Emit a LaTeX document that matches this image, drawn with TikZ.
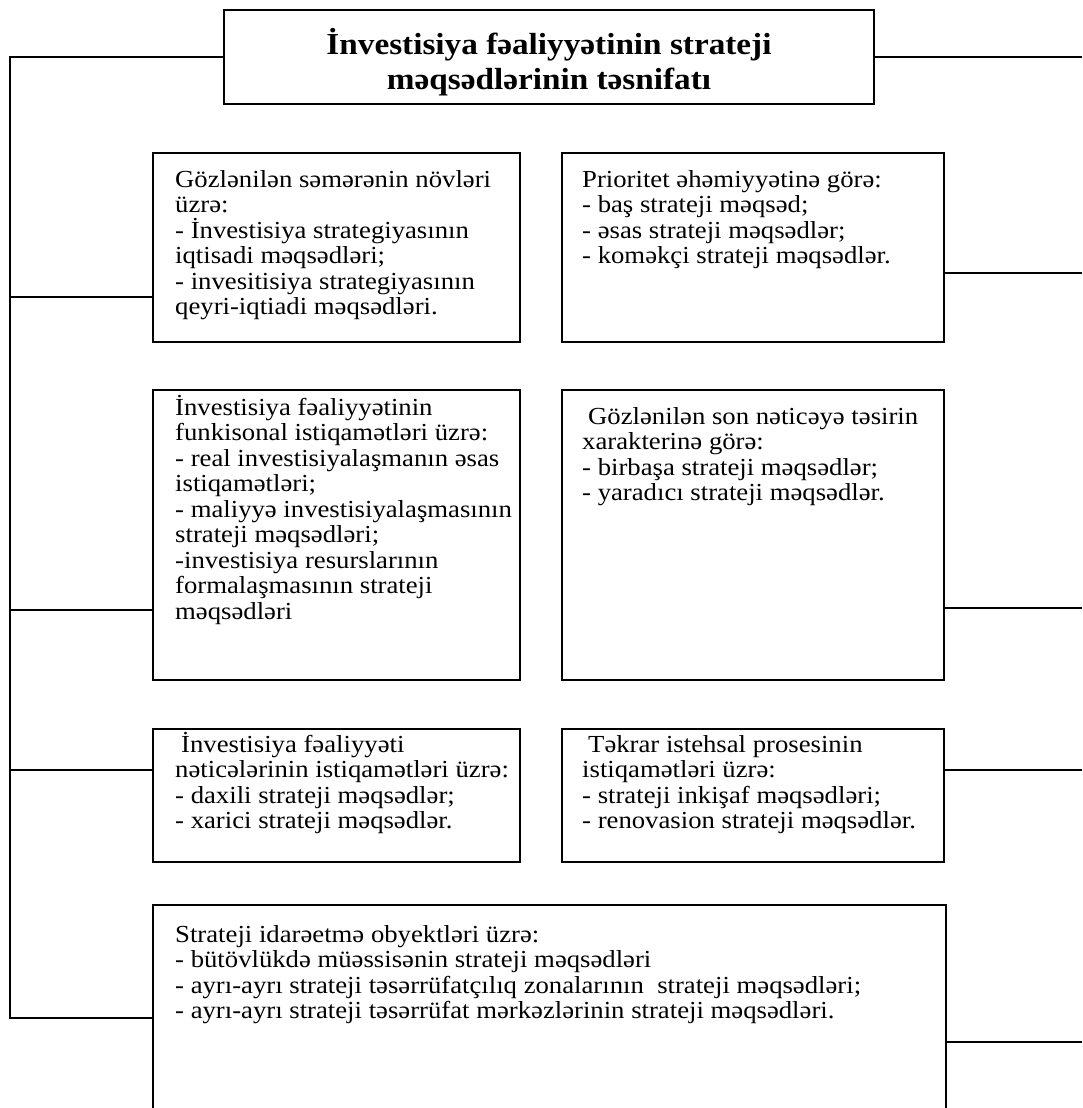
\documentclass[tikz,border=0pt]{standalone}
\usepackage{fontspec}
\setmainfont{Liberation Serif}[FakeStretch=1.09]
\usetikzlibrary{calc}
\newcommand\bodyfont{\fontsize{24.5}{25.5}\selectfont}
\newcommand\headfont{\fontsize{30.5}{35}\selectfont\bfseries}
% fixes the first baseline 21pt below the top of a text block
\newcommand\fl{\rule{0pt}{21pt}}
\begin{document}
\begin{tikzpicture}[x=1pt,y=-1pt,
  frame/.style={draw, line width=1.5pt, inner sep=0pt, outer sep=0pt, anchor=north west},
  txt/.style={anchor=north west, inner sep=0pt, align=left, font=\bodyfont},
  wire/.style={line width=1.5pt}]
\useasboundingbox (0,0) rectangle (1082,1108);
\clip (0,0) rectangle (1082,1108);

% title
\node[frame, anchor=center, minimum width=650pt, minimum height=94pt] (title) at (549,57) {};
\node[align=center, font=\headfont, inner sep=0pt] (titletext) at (549,62)
  {İnvestisiya fəaliyyətinin strateji\\məqsədlərinin təsnifatı};

% classification boxes
\node[frame, minimum width=367pt, minimum height=189pt] (b1) at (153,153) {};
\node[frame, minimum width=382pt, minimum height=189pt] (b2) at (562,153) {};
\node[frame, minimum width=367pt, minimum height=290pt] (b3) at (153,390) {};
\node[frame, minimum width=382pt, minimum height=290pt] (b4) at (562,390) {};
\node[frame, minimum width=367pt, minimum height=133pt] (b5) at (153,729) {};
\node[frame, minimum width=382pt, minimum height=133pt] (b6) at (562,729) {};
\node[frame, minimum width=793pt, minimum height=260pt] (b7) at (153,905) {};

% box texts
\node[txt] (t1) at (175,166) {\fl Gözlənilən səmərənin növləri\\üzrə:\\- İnvestisiya strategiyasının\\iqtisadi məqsədləri;\\- invesitisiya strategiyasının\\qeyri-iqtiadi məqsədləri.};
\node[txt] (t2) at (582,166) {\fl Prioritet əhəmiyyətinə görə:\\- baş strateji məqsəd;\\- əsas strateji məqsədlər;\\- koməkçi strateji məqsədlər.};
\node[txt] (t3) at (175,394) {\fl İnvestisiya fəaliyyətinin\\funkisonal istiqamətləri üzrə:\\- real investisiyalaşmanın əsas\\istiqamətləri;\\- maliyyə investisiyalaşmasının\\strateji məqsədləri;\\-investisiya resurslarının\\formalaşmasının strateji\\məqsədləri};
\node[txt] (t4) at (582,403) {\fl\hspace*{6pt}Gözlənilən son nəticəyə təsirin\\xarakterinə görə:\\- birbaşa strateji məqsədlər;\\- yaradıcı strateji məqsədlər.};
\node[txt] (t5) at (175,731) {\fl\hspace*{6pt}İnvestisiya fəaliyyəti\\nəticələrinin istiqamətləri üzrə:\\- daxili strateji məqsədlər;\\- xarici strateji məqsədlər.};
\node[txt] (t6) at (582,731) {\fl\hspace*{6pt}Təkrar istehsal prosesinin\\istiqamətləri üzrə:\\- strateji inkişaf məqsədləri;\\- renovasion strateji məqsədlər.};
\node[txt] (t7) at (175,921) {\fl Strateji idarəetmə obyektləri üzrə:\\- bütövlükdə müəssisənin strateji məqsədləri\\- ayrı-ayrı strateji təsərrüfatçılıq zonalarının\ \ strateji məqsədləri;\\- ayrı-ayrı strateji təsərrüfat mərkəzlərinin strateji məqsədləri.};

% left spine and its branches
\coordinate (sptop) at (10,57);
\coordinate (spbot) at (10,1018);
\draw[wire] (title.west) -- (sptop) -- (spbot) -- (spbot -| b7.west);
\coordinate (l1) at (10,297);
\coordinate (l3) at (10,610);
\coordinate (l5) at (10,770);
\draw[wire] (l1) -- (l1 -| b1.west);
\draw[wire] (l3) -- (l3 -| b3.west);
\draw[wire] (l5) -- (l5 -| b5.west);

% right-hand stubs to the page edge
\coordinate (rtop) at (1082,57);
\coordinate (r2) at (1082,273);
\coordinate (r4) at (1082,608);
\coordinate (r6) at (1082,770);
\coordinate (r7) at (1082,1042);
\draw[wire] (title.east) -- (rtop);
\draw[wire] (r2 -| b2.east) -- (r2);
\draw[wire] (r4 -| b4.east) -- (r4);
\draw[wire] (r6 -| b6.east) -- (r6);
\draw[wire] (r7 -| b7.east) -- (r7);
\end{tikzpicture}
\end{document}
